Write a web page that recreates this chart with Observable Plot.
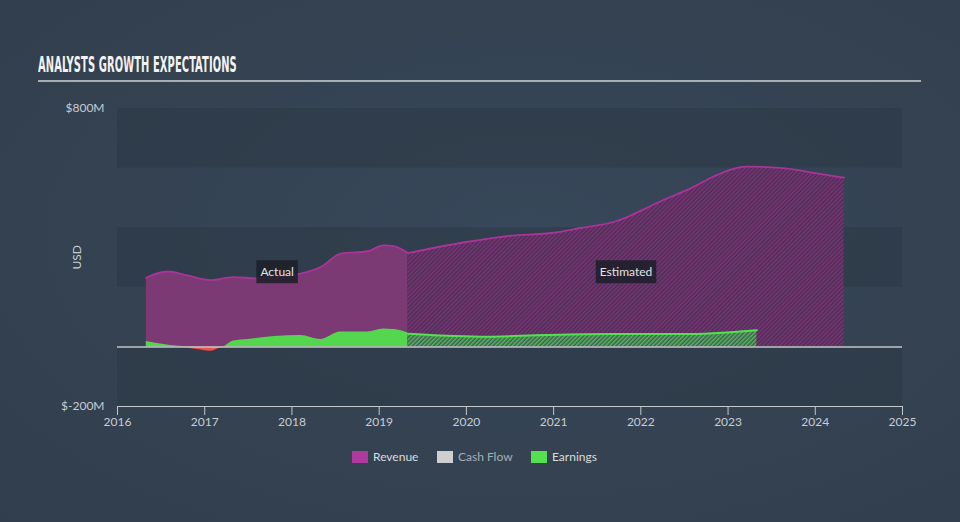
<!DOCTYPE html>
<html>
<head>
<meta charset="utf-8">
<script src="https://cdn.jsdelivr.net/npm/d3@7"></script>
<script src="https://cdn.jsdelivr.net/npm/@observablehq/plot@0.6"></script>
<style>
  html, body { margin: 0; padding: 0; }
  body { width: 960px; height: 522px; overflow: hidden; background: #344150; }
  #wrap { position: relative; width: 960px; height: 522px;
    background: radial-gradient(ellipse at 55% 45%, #37485a 0%, #344252 55%, #313e4d 100%);
    font-family: "Lato", "Open Sans", sans-serif; }
  #title { position: absolute; left: 38px; top: 52px; font-family: "Liberation Sans Narrow", "DejaVu Sans Condensed", sans-serif;
    font-weight: bold; font-size: 22px; color: #f2f2f2; transform: scaleX(0.5); transform-origin: left top; white-space: nowrap; letter-spacing: 0.2px; }
  #rule { position: absolute; left: 38px; top: 80px; width: 883px; height: 2px; background: #a9aeb5; }
  #chart { position: absolute; left: 0; top: 0; }
  #legend { position: absolute; left: 0; top: 449px; width: 960px; height: 16px; font-size: 12px; color: #dcdcdc; }
  #legend .item { position: absolute; top: 0; display: flex; align-items: center; white-space: nowrap; }
  #legend .sw { width: 16px; height: 12px; margin-right: 5px; }
</style>
</head>
<body>
<div id="wrap">
  <div id="chart"></div>
  <div id="title">ANALYSTS GROWTH EXPECTATIONS</div>
  <div id="rule"></div>
  <div id="legend"></div>
</div>
<script>
// ---- data (USD millions, x in fractional years) ----
const revenueActualYears = [2016.33, 2016.57, 2016.8, 2017.07, 2017.33, 2017.6, 2018.1, 2018.33, 2018.56, 2018.87, 2019.05, 2019.17, 2019.33];
const revenueActualValues = [232, 253, 240, 224, 234, 230, 246, 268, 313, 321, 341, 338, 315];
const revenueEstYears = [2019.33, 2020.0, 2020.47, 2021.0, 2021.31, 2021.7, 2022.26, 2022.6, 2022.83, 2023.22, 2023.6, 2024.0, 2024.33];
const revenueEstValues = [315, 352, 372, 383, 399, 420, 493, 536, 571, 605, 601, 583, 568];
const earningsActualYears = [2016.33, 2016.7, 2016.9, 2017.07, 2017.2, 2017.33, 2017.5, 2017.8, 2018.1, 2018.33, 2018.56, 2018.87, 2019.05, 2019.17, 2019.33];
const earningsActualValues = [18, 2, -8, -15, -2, 20, 25, 35, 38, 25, 50, 50, 60, 58, 47];
const earningsEstYears = [2019.33, 2019.7, 2020.16, 2020.93, 2021.69, 2022.46, 2022.83, 2023.1, 2023.33];
const earningsEstValues = [44, 38, 34, 40, 43, 43, 46, 51, 56];
const yTicks = [800, -200];
const xTicks = [2016, 2017, 2018, 2019, 2020, 2021, 2022, 2023, 2024, 2025];
const bandLows = [600, 200, -200];
const bandHighs = [800, 400, 0];
const legendItems = ["Revenue", "Cash Flow", "Earnings"];
const legendColors = ["#b0399f", "#cfcfcf", "#54e04f"];
const legendTextColors = ["#dcdcdc", "#a9aeb4", "#dcdcdc"];
const legendLefts = [352, 437, 531];

const zip = (xs, ys) => xs.map((x, i) => ({x, y: ys[i]}));
const revAct = zip(revenueActualYears, revenueActualValues);
const revEst = zip(revenueEstYears, revenueEstValues);
const earnAct = zip(earningsActualYears, earningsActualValues);
const earnEst = zip(earningsEstYears, earningsEstValues);
const bands = bandLows.map((lo, i) => ({lo, hi: bandHighs[i]}));
const curve = "monotone-x";
const actualMid = (revenueActualYears[0] + revenueActualYears[revenueActualYears.length - 1]) / 2;
const estMid = (revenueEstYears[0] + revenueEstYears[revenueEstYears.length - 1]) / 2;

const plot = Plot.plot({
  width: 960,
  height: 522,
  marginLeft: 117,
  marginRight: 58,
  marginTop: 108,
  marginBottom: 116,
  style: {background: "transparent", color: "#c9cdd2", fontFamily: "Lato, 'Open Sans', sans-serif", fontSize: "12px"},
  x: {domain: [2016, 2025]},
  y: {domain: [-200, 800]},
  marks: [
    Plot.rect(bands, {y1: "lo", y2: "hi", fill: "#2c3846", fillOpacity: 0.55}),
    // Revenue
    Plot.areaY(revAct, {x: "x", y: "y", fill: "#7b3a74", curve}),
    Plot.areaY(revEst, {x: "x", y: "y", fill: "url(#hatchRev)", curve}),
    Plot.lineY(revAct, {x: "x", y: "y", stroke: "#a8349a", strokeWidth: 1.8, curve}),
    Plot.lineY(revEst, {x: "x", y: "y", stroke: "#a8349a", strokeWidth: 1.8, curve}),
    // Earnings
    Plot.areaY(earnAct, {x: "x", y: d => Math.max(0, d.y), fill: "#54d74f", curve}),
    Plot.areaY(earnAct, {x: "x", y: d => Math.min(0, d.y), fill: "#f4504a", curve}),
    Plot.areaY(earnEst, {x: "x", y: "y", fill: "url(#hatchEarn)", curve}),
    Plot.lineY(earnEst, {x: "x", y: "y", stroke: "#54e04f", strokeWidth: 2, curve}),
    // zero line
    Plot.ruleY([0], {stroke: "#c4c6c9", strokeWidth: 1.5}),
    // labels
    Plot.text([{x: actualMid, t: "Actual"}, {x: estMid, t: "Estimated"}], {x: "x", y: () => 250, text: "t", fill: "#e4e4e4", fontSize: 12, className: "phase"}),
    // axes
    Plot.axisY({ticks: yTicks, tickFormat: d => `$${d}M`, tickSize: 0, tickPadding: 13, label: null, fontSize: 12}),
    Plot.text(["USD"], {frameAnchor: "left", dx: -40, dy: 12, rotate: -90, fill: "#c9cdd2", fontSize: 12}),
    Plot.ruleY([-200], {stroke: "#c4c8ce", strokeWidth: 1.2}),
    Plot.axisX({ticks: xTicks, tickFormat: d => String(d), tickSize: 9, tickPadding: 2, label: null, stroke: "#c4c8ce", fontSize: 12})
  ]
});

document.getElementById("chart").appendChild(plot);

// hatch patterns
const ns = "http://www.w3.org/2000/svg";
const defs = document.createElementNS(ns, "defs");
defs.innerHTML = `
  <pattern id="hatchRev" patternUnits="userSpaceOnUse" width="3" height="3" patternTransform="rotate(45)">
    <rect width="3" height="3" fill="#4a2e55"/>
    <rect width="1.5" height="3" fill="#7c3575"/>
  </pattern>
  <pattern id="hatchEarn" patternUnits="userSpaceOnUse" width="3" height="3" patternTransform="rotate(45)">
    <rect width="3" height="3" fill="#3b5f55"/>
    <rect width="1.5" height="3" fill="#5bb55b"/>
  </pattern>`;
plot.insertBefore(defs, plot.firstChild);

// label boxes
plot.querySelectorAll("g.phase text").forEach(t => {
  const b = t.getBBox();
  const r = document.createElementNS(ns, "rect");
  r.setAttribute("x", b.x - 4);
  r.setAttribute("y", b.y - 4);
  r.setAttribute("width", b.width + 8);
  r.setAttribute("height", b.height + 8);
  r.setAttribute("fill", "#1b1f28");
  r.setAttribute("fill-opacity", "0.85");
  const tr = t.getAttribute("transform");
  if (tr) r.setAttribute("transform", tr);
  t.parentNode.insertBefore(r, t);
});

// legend
const legend = document.getElementById("legend");
legendItems.forEach((name, i) => {
  const item = document.createElement("div");
  item.className = "item";
  item.style.left = legendLefts[i] + "px";
  item.innerHTML = `<div class="sw" style="background:${legendColors[i]}"></div><span style="color:${legendTextColors[i]}">${name}</span>`;
  legend.appendChild(item);
});
</script>
</body>
</html>
